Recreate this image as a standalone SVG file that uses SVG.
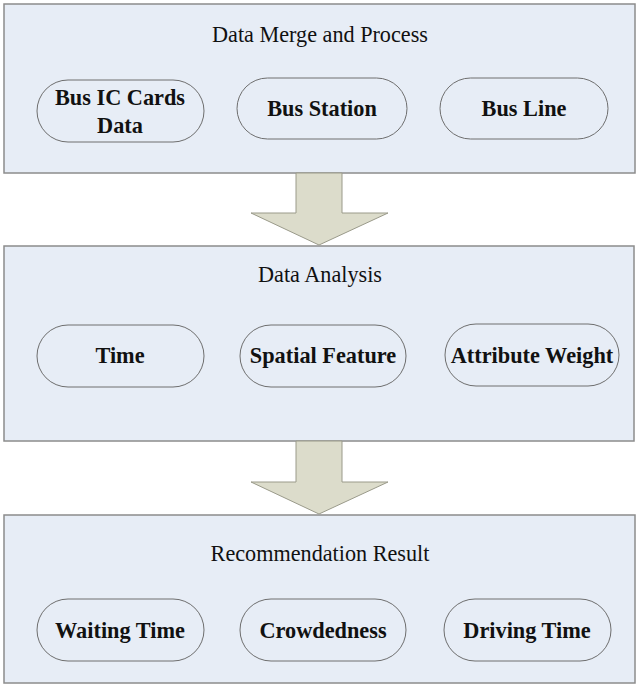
<svg xmlns="http://www.w3.org/2000/svg" width="640" height="689" viewBox="0 0 640 689">
<style>
.panel{fill:#e7edf6;stroke:#8c8c8c;stroke-width:1.5}
.pill{fill:#e7edf6;stroke:#6e6e6e;stroke-width:1}
.title{font-family:"Liberation Serif",serif;font-size:22.2px;fill:#111;text-anchor:middle}
.lbl{font-family:"Liberation Serif",serif;font-size:22.3px;font-weight:bold;fill:#111;text-anchor:middle}
.arrow{fill:#dcdccb;stroke:#9a9a8a;stroke-width:1}
</style>
<rect width="640" height="689" fill="#fff"/>
<g id="panel1">
<rect class="panel" x="4" y="4" width="631" height="169"/>
<text class="title" x="320" y="42">Data Merge and Process</text>
</g>
<g id="node-bus-ic"><rect class="pill" x="37" y="80" width="167" height="62" rx="31"/><text class="lbl" x="120" y="105">Bus IC Cards</text><text class="lbl" x="120" y="133">Data</text></g>
<g id="node-bus-station"><rect class="pill" x="237" y="78" width="170" height="61" rx="30.5"/><text class="lbl" x="322" y="116">Bus Station</text></g>
<g id="node-bus-line"><rect class="pill" x="440" y="78" width="168" height="61" rx="30.5"/><text class="lbl" x="524" y="116">Bus Line</text></g>
<g id="panel2">
<rect class="panel" x="4" y="246" width="630" height="195"/>
<text class="title" x="320" y="282">Data Analysis</text>
</g>
<g id="node-time"><rect class="pill" x="37" y="325" width="167" height="62" rx="31"/><text class="lbl" x="120" y="363">Time</text></g>
<g id="node-spatial"><rect class="pill" x="240" y="325" width="166" height="62" rx="31"/><text class="lbl" x="323" y="363">Spatial Feature</text></g>
<g id="node-attr"><rect class="pill" x="445" y="324" width="174" height="62" rx="31"/><text class="lbl" x="532" y="363">Attribute Weight</text></g>
<g id="panel3">
<rect class="panel" x="4" y="515" width="631" height="168"/>
<text class="title" x="320" y="561">Recommendation Result</text>
</g>
<g id="node-waiting"><rect class="pill" x="37" y="599" width="167" height="62" rx="31"/><text class="lbl" x="120" y="638">Waiting Time</text></g>
<g id="node-crowd"><rect class="pill" x="240" y="599" width="166" height="62" rx="31"/><text class="lbl" x="323" y="638">Crowdedness</text></g>
<g id="node-driving"><rect class="pill" x="444" y="599" width="167" height="62" rx="31"/><text class="lbl" x="527" y="638">Driving Time</text></g>
<g id="connectors">
<polygon class="arrow" points="296,173 342,173 342,213 388,213 319,245 251,213 296,213"/>
<polygon class="arrow" points="296,441 342,441 342,482 388,482 319,514 251,482 296,482"/>
</g>
</svg>
